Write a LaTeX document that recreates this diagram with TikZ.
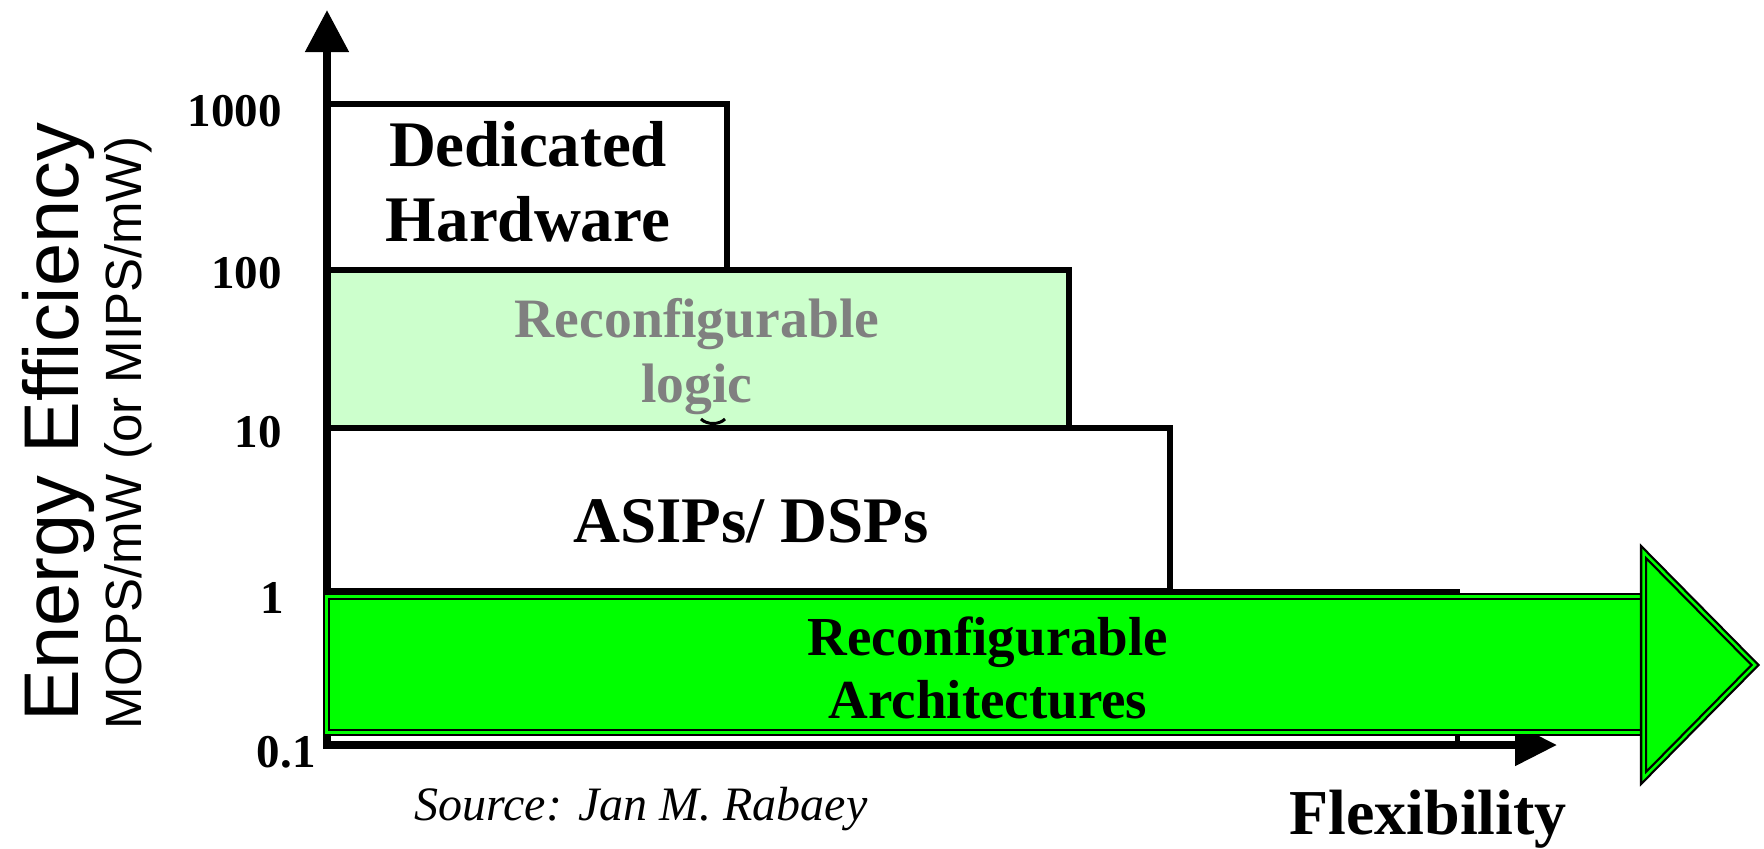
\documentclass[tikz,border=0pt]{standalone}
\usepackage{fontspec}
\setmainfont{Liberation Serif}[Ligatures=NoCommon]
\setsansfont{Liberation Sans}[Ligatures=NoCommon]
\usetikzlibrary{arrows.meta}

\definecolor{archgreen}{HTML}{00FF00}
\definecolor{fpgagreen}{HTML}{CCFFCC}
\definecolor{fpgagray}{HTML}{808080}

\begin{document}
\begin{tikzpicture}[x=0.5pt, y=-0.5pt,
    box/.style={draw=black, line width=3pt, line join=miter},
    axis/.style={line width=4pt, line join=miter,
        {Triangle[length=21pt,width=21pt]}-{Triangle[length=21pt,width=20pt]}},
    archarrow/.style={draw=black, fill=archgreen, double=archgreen,
        line width=1.15pt, double distance=1.25pt, line join=miter},
    ticklbl/.style={font=\fontsize{23.5pt}{28pt}\selectfont\bfseries, inner sep=0pt, anchor=base east},
    classlbl/.style={font=\fontsize{32.5pt}{37.5pt}\selectfont\bfseries, align=center, inner sep=0pt},
    archlbl/.style={font=\fontsize{27.5pt}{31.5pt}\selectfont\bfseries, align=center, inner sep=0pt}]

    \useasboundingbox (0,0) rectangle (1764,848);

    %Locations (pixels, y pointing down)%
    %===========================================================
    \def \Xaxis {327}; % x of the energy axis
    \def \Yaxis {745}; % y of the flexibility axis
    \coordinate (origo) at (\Xaxis,\Yaxis);
    \coordinate (ytip) at (\Xaxis,10);
    \coordinate (xtip) at (1557,\Yaxis);

    %Efficiency classes, one band per decade
    %===========================================================
    \draw[box, fill=white] (\Xaxis,103.5) rectangle (727,270); % dedicated hardware
    \draw[box, fill=fpgagreen] (\Xaxis,270) rectangle (1069,427.5); % reconfigurable logic
    \draw[box, fill=white] (\Xaxis,427.5) rectangle (1170,591); % ASIPs / DSPs
    \draw[box, line width=2.5pt] (\Xaxis,591) rectangle (1457,\Yaxis); % 1 .. 0.1 band

    %Axes
    \draw[axis] (ytip) -- (origo) -- (xtip);

    %Reconfigurable architectures arrow, head drawn over the body
    \draw[archarrow] (326.5,596.5) rectangle (1643.5,732.5);
    \draw[archarrow] (1643.5,552) -- (1755,665) -- (1643.5,778) -- cycle;

    % small mark below "logic"
    \draw[line width=1.5pt] (701,419) .. controls (707,425) and (719,425) .. (725,419);

    %Labels
    %===========================================================
    \foreach \val/\xx/\yy [count=\i] in {1000/282/126, 100/282/288, 10/282/447, 1/284/613, 0.1/316/767}
        \node[ticklbl] (tick\i) at (\xx,\yy) {\val};

    \node[classlbl] (dedicated) at (528,182) {Dedicated\\Hardware};
    \node[font=\fontsize{27.8pt}{32.5pt}\selectfont\bfseries, text=fpgagray, align=center, inner sep=0pt]
        (fpga) at (697,357) {Reconfigurable\\logic};
    \node[classlbl, anchor=base] (asip) at (751,542) {ASIPs/ DSPs};
    \node[archlbl] (arch) at (988,668) {Reconfigurable\\Architectures};

    \node[font=\fontsize{38.8pt}{42pt}\selectfont\sffamily, rotate=90, anchor=base, inner sep=0pt]
        (energy) at (78,422) {Energy Efficiency};
    \node[font=\fontsize{25.5pt}{30pt}\selectfont\sffamily, rotate=90, anchor=base, inner sep=0pt]
        (units) at (141,433) {MOPS/mW (or MIPS/mW)};

    \node[font=\fontsize{24pt}{28pt}\selectfont\itshape, anchor=base, inner sep=0pt]
        (source) at (641,820) {Source: Jan M. Rabaey};
    \node[font=\fontsize{32pt}{36pt}\selectfont\bfseries, anchor=base, inner sep=0pt]
        (flex) at (1428,834) {Flexibility};
\end{tikzpicture}
\end{document}
